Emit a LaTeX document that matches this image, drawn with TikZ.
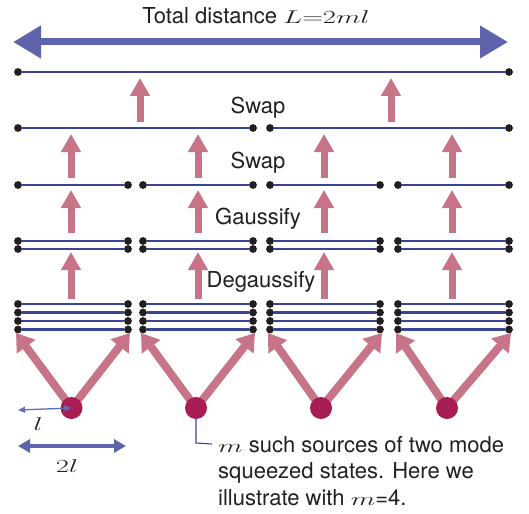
\RequirePackage{fix-cm}
\documentclass[tikz,border=0pt]{standalone}
\usepackage{graphicx}
\usepackage{fontspec}
\setmainfont{TeX Gyre Heros}
\usetikzlibrary{arrows.meta}
\newcommand{\wmath}[1]{\scalebox{1.55}[1]{\fontsize{18.5}{20}\selectfont$#1$}}
\definecolor{dotc}{RGB}{35,31,32}
\definecolor{linec}{RGB}{58,68,150}
\definecolor{pinkarr}{RGB}{200,116,136}
\definecolor{srcc}{RGB}{169,29,85}
\definecolor{bluearr}{RGB}{94,99,172}
\definecolor{thinblue}{RGB}{100,106,180}
\begin{document}
\begin{tikzpicture}[x=1pt,y=-1pt,
  dot/.style={circle,fill=dotc,inner sep=0pt,minimum size=7.8pt},
  wire/.style={draw=linec,line width=2.4pt},
  thinwire/.style={draw=linec,line width=1.3pt},
  uparr/.style={draw=pinkarr,line width=7pt,-{Triangle[width=19pt,length=18pt]}},
  diagarr/.style={draw=pinkarr,line width=8pt,-{Triangle[width=22pt,length=17pt]}},
  source/.style={circle,fill=srcc,inner sep=0pt,minimum size=22pt},
  bigarr/.style={draw=bluearr,line width=7pt,{Triangle[width=31pt,length=28pt]}-{Triangle[width=31pt,length=28pt]}},
  midarr/.style={draw=bluearr,line width=4.5pt,{Triangle[width=13pt,length=12pt]}-{Triangle[width=13pt,length=12pt]}},
  smallarr/.style={draw=thinblue,line width=1.3pt,{Triangle[width=6pt,length=7pt]}-{Triangle[width=6pt,length=7pt]}},
  leader/.style={draw=linec,line width=1.1pt},
  lbl/.style={font=\fontsize{22}{26.5}\selectfont,text=dotc,anchor=base,inner sep=0pt},
  note/.style={font=\fontsize{22}{26.5}\selectfont,text=dotc,anchor=base west,inner sep=0pt}
]
\useasboundingbox (0,0) rectangle (529,513);

% title and total-distance arrow
\node[lbl] (title) at (256,24) {Total distance \wmath{L{=}2ml}};
\coordinate (bigL) at (13,42);
\coordinate (bigR) at (508,42);
\draw[bigarr] (bigL) -- (bigR);

% row 5: four lines per segment
\foreach \y [count=\r] in {304,312.5,321,329.5} {
  \foreach \a/\b [count=\s] in {18/128,143/253,270/380,398/509} {
    \node[dot] (e-\r-\s-a) at (\a,\y) {};
    \node[dot] (e-\r-\s-b) at (\b,\y) {};
    \draw[wire] (e-\r-\s-a) -- (e-\r-\s-b);
  }
}
% row 4: two lines per segment
\foreach \y [count=\r] in {241,249} {
  \foreach \a/\b [count=\s] in {18/128,143/253,270/380,398/509} {
    \node[dot] (f-\r-\s-a) at (\a,\y) {};
    \node[dot] (f-\r-\s-b) at (\b,\y) {};
    \draw[wire] (f-\r-\s-a) -- (f-\r-\s-b);
  }
}
% row 3: one line per segment
\foreach \a/\b [count=\s] in {18/128,143/253,270/380,398/509} {
  \node[dot] (g-\s-a) at (\a,185) {};
  \node[dot] (g-\s-b) at (\b,185) {};
  \draw[wire] (g-\s-a) -- (g-\s-b);
}
% row 2
\foreach \a/\b [count=\s] in {18/253,270/509} {
  \node[dot] (h-\s-a) at (\a,128) {};
  \node[dot] (h-\s-b) at (\b,128) {};
  \draw[wire] (h-\s-a) -- (h-\s-b);
}
% row 1
\node[dot] (k-a) at (18,72) {};
\node[dot] (k-b) at (509,72) {};
\coordinate (k-m) at (398,72);
\draw[thinwire] (k-a) -- (k-m);
\draw[wire] (k-m) -- (k-b);

% vertical arrows
\foreach \x [count=\i] in {71,198,324,452} {
  \coordinate (p1b\i) at (\x,299); \coordinate (p1t\i) at (\x,252);
  \draw[uparr] (p1b\i) -- (p1t\i);
  \coordinate (p2b\i) at (\x,233); \coordinate (p2t\i) at (\x,190);
  \draw[uparr] (p2b\i) -- (p2t\i);
  \coordinate (p3b\i) at (\x,178); \coordinate (p3t\i) at (\x,134);
  \draw[uparr] (p3b\i) -- (p3t\i);
}
\foreach \x [count=\i] in {140,391} {
  \coordinate (p4b\i) at (\x,122); \coordinate (p4t\i) at (\x,78);
  \draw[uparr] (p4b\i) -- (p4t\i);
}

% step labels
\node[lbl] (swap1) at (258,114) {Swap};
\node[lbl] (swap2) at (258,168) {Swap};
\node[lbl] (gauss) at (258,224) {Gaussify};
\node[lbl] (degauss) at (261,287) {Degaussify};

% sources with diagonal arrows
\foreach \x/\l/\r [count=\i] in {71.5/16/130, 196/141/255, 321/268/382, 447/396/511} {
  \coordinate (s\i) at (\x,408);
  \coordinate (tl\i) at (\l,333);
  \coordinate (tr\i) at (\r,333);
  \draw[diagarr] (s\i) -- (tl\i);
  \draw[diagarr] (s\i) -- (tr\i);
}
\foreach \i in {1,...,4} {
  \node[source] (src\i) at (s\i) {};
}

% l and 2l
\coordinate (lend) at (18,410);
\draw[smallarr] (lend) -- (src1.center);
\node[lbl] (lbl-l) at (38,430) {\wmath{l}};
\coordinate (twoL) at (18,446);
\coordinate (twoR) at (126,446);
\draw[midarr] (twoL) -- (twoR);
\node[lbl] (lbl-2l) at (67,472) {\wmath{2l}};

% note
\node[note] (n1) at (218,452) {\wmath{m} such sources of two mode};
\node[note] (n2) at (218,478.5) {squeezed states. Here we};
\node[note] (n3) at (218,505) {illustrate with \wmath{m}=4.};
\coordinate (leadend) at (212,444);
\draw[leader] (src2.south) -- (196,443) -- (leadend);
\end{tikzpicture}
\end{document}
